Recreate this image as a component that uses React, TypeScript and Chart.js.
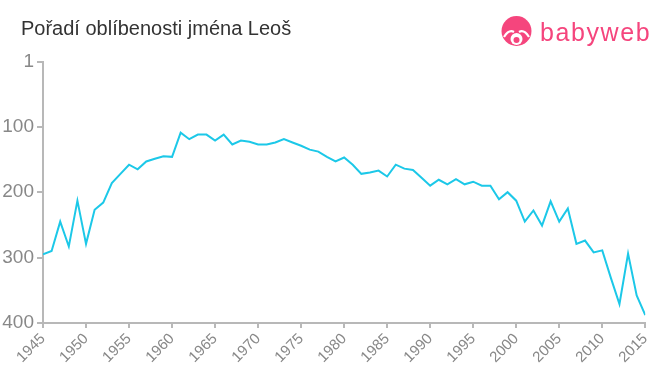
import React, { useEffect, useRef } from "react";
import { Chart, registerables } from "chart.js";

Chart.register(...registerables);

const years: number[] = [
  1945, 1946, 1947, 1948, 1949, 1950, 1951, 1952, 1953, 1954,
  1955, 1956, 1957, 1958, 1959, 1960, 1961, 1962, 1963, 1964,
  1965, 1966, 1967, 1968, 1969, 1970, 1971, 1972, 1973, 1974,
  1975, 1976, 1977, 1978, 1979, 1980, 1981, 1982, 1983, 1984,
  1985, 1986, 1987, 1988, 1989, 1990, 1991, 1992, 1993, 1994,
  1995, 1996, 1997, 1998, 1999, 2000, 2001, 2002, 2003, 2004,
  2005, 2006, 2007, 2008, 2009, 2010, 2011, 2012, 2013, 2014, 2015,
];

const ranks: number[] = [
  295, 290, 245, 283, 213, 279, 227, 216, 186, 172,
  158, 165, 153, 149, 145, 146, 109, 119, 112, 112,
  121, 112, 127, 121, 123, 127, 127, 124, 119, 124,
  129, 135, 138, 146, 153, 147, 158, 172, 170, 167,
  176, 158, 164, 166, 178, 190, 181, 188, 180, 188,
  184, 190, 190, 211, 200, 213, 245, 228, 251, 214,
  245, 225, 279, 274, 292, 289, 331, 371, 294, 358, 388,
];

const yTicks: number[] = [1, 100, 200, 300, 400];

const title = "Pořadí oblíbenosti jména Leoš";
const brand = "babyweb";

export default function App() {
  const ref = useRef<HTMLCanvasElement | null>(null);

  useEffect(() => {
    if (!ref.current) return;
    const axisColor = "#b8b8b8";
    const tickColor = "#888888";
    const chart = new Chart(ref.current, {
      type: "line",
      data: {
        datasets: [
          {
            data: years.map((y, i) => ({ x: y, y: ranks[i] })),
            borderColor: "#1cc8e8",
            borderWidth: 2,
            pointRadius: 0,
            tension: 0,
            fill: false,
          },
        ],
      },
      options: {
        responsive: false,
        animation: false,
        layout: { padding: { top: 62, right: 14, left: 0, bottom: 0 } },
        plugins: {
          legend: { display: false },
          tooltip: { enabled: false },
          title: { display: false },
        },
        scales: {
          x: {
            type: "linear",
            min: 1945,
            max: 2015,
            ticks: {
              stepSize: 5,
              autoSkip: false,
              maxRotation: 45,
              minRotation: 45,
              color: tickColor,
              font: { family: "Liberation Sans, Arial, sans-serif", size: 15 },
              padding: 2,
              callback: (v: any) => String(v),
            },
            grid: {
              drawOnChartArea: false,
              drawTicks: true,
              tickLength: 5,
              color: axisColor,
              lineWidth: 2,
            },
            border: { color: axisColor, width: 2 },
            afterFit: (s: any) => {
              s.height = 52;
            },
          },
          y: {
            type: "linear",
            reverse: true,
            min: 1,
            max: 400,
            afterBuildTicks: (s: any) => {
              s.ticks = yTicks.map((v) => ({ value: v }));
            },
            ticks: {
              color: tickColor,
              font: { family: "Liberation Sans, Arial, sans-serif", size: 19 },
              padding: 3,
            },
            grid: {
              drawOnChartArea: false,
              drawTicks: true,
              tickLength: 6,
              color: axisColor,
              lineWidth: 2,
            },
            border: { color: axisColor, width: 2 },
            afterFit: (s: any) => {
              s.width = 43;
            },
          },
        },
      },
    });
    return () => chart.destroy();
  }, []);

  return (
    <div
      style={{
        position: "fixed",
        left: 0,
        top: 0,
        width: 660,
        height: 375,
        background: "#ffffff",
        overflow: "hidden",
      }}
    >
      <canvas ref={ref} width={660} height={375} style={{ position: "absolute", left: 0, top: 0 }} />
      <div
        style={{
          position: "absolute",
          left: 21,
          top: 17,
          fontFamily: "Liberation Sans, Arial, sans-serif",
          fontSize: 20,
          color: "#333333",
          whiteSpace: "nowrap",
        }}
      >
        {title}
      </div>
      <div style={{ position: "absolute", left: 500, top: 16, display: "flex", alignItems: "center" }}>
        <svg width="33" height="32" viewBox="0 0 33 32">
          <circle cx="16.5" cy="15" r="15" fill="#f5457d" />
          <ellipse cx="16.5" cy="23" rx="6" ry="6" fill="#ffffff" />
          <circle cx="16.5" cy="24" r="3" fill="#f5457d" />
          <path d="M4 21 Q9 13 14 16" stroke="#ffffff" strokeWidth="2.2" fill="none" />
          <path d="M29 21 Q24 13 19 16" stroke="#ffffff" strokeWidth="2.2" fill="none" />
        </svg>
        <span
          style={{
            marginLeft: 7,
            fontFamily: "Liberation Sans, Arial, sans-serif",
            fontSize: 25,
            color: "#f5457d",
            letterSpacing: 1.6,
            lineHeight: "30px",
          }}
        >
          {brand}
        </span>
      </div>
    </div>
  );
}
